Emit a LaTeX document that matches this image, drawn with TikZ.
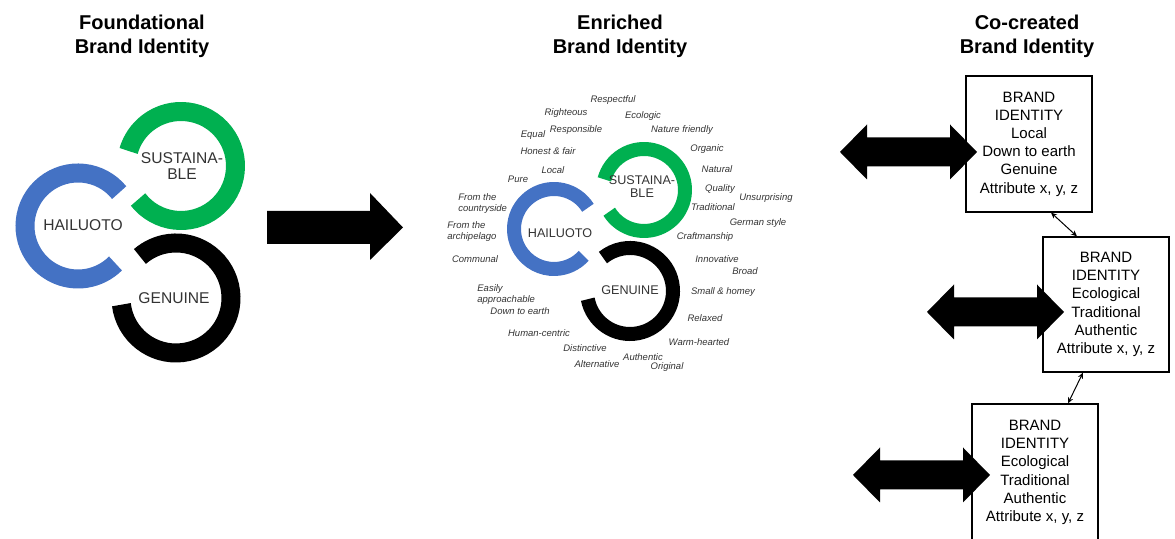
\documentclass[tikz,border=0pt]{standalone}
\usepackage{fontspec}
\setmainfont{Liberation Sans}
\usetikzlibrary{arrows.meta,calc}
\definecolor{ringblue}{HTML}{4472C4}
\definecolor{ringgreen}{HTML}{00B050}
\definecolor{labelgray}{HTML}{333333}
\tikzset{
  title/.style={font=\fontsize{10}{12}\selectfont\bfseries, align=center, inner sep=0pt},
  biglabel/.style={font=\fontsize{7.8}{7.6}\selectfont, text=labelgray, align=center, inner sep=0pt},
  smalllabel/.style={font=\fontsize{6.3}{6.6}\selectfont, text=labelgray, align=center, inner sep=0pt},
  word/.style={font=\fontsize{4.75}{5.5}\selectfont\itshape, text=labelgray, inner sep=0pt},
  wordl/.style={word, align=left, anchor=west},
  bibox/.style={draw, line width=0.6pt, minimum width=63pt, inner sep=0pt, align=center, font=\fontsize{7.5}{9.1}\selectfont},
  thinarrow/.style={line width=0.5pt, {Stealth[length=3pt,width=2.6pt]}-{Stealth[length=3pt,width=2.6pt]}},
  pics/dblarr/.style={code={\fill (0,0) -- (27,27.5) -- (27,14.5) -- (110,14.5) -- (110,27.5) -- (137,0) -- (110,-27.5) -- (110,-14.5) -- (27,-14.5) -- (27,-27.5) -- cycle;}}
}
\begin{document}
\begin{tikzpicture}[x=0.5pt, y=0.5pt]
\useasboundingbox (0,0) rectangle (1175,539);
% titles
\node[title] (t1) at (142,503) {Foundational\\Brand Identity};
\node[title] (t2) at (620,503) {Enriched\\Brand Identity};
\node[title] (t3) at (1027,503) {Co-created\\Brand Identity};
% left rings
\coordinate (lg) at (181,373);
\coordinate (lb) at (78,313);
\coordinate (lk) at (176,241);
\draw[ringgreen, line width=9.5pt] ($(lg)+(-142:54.5)$) arc[start angle=-142, end angle=164, radius=54.5];
\draw[ringblue, line width=9.5pt] ($(lb)+(39:53)$) arc[start angle=39, end angle=315, radius=53];
\draw[black, line width=9.5pt] ($(lk)+(-173:55)$) arc[start angle=-173, end angle=131, radius=55];
\node[biglabel] (ls) at (182,373) {SUSTAINA-\\BLE};
\node[biglabel] (lh) at (83,314) {HAILUOTO};
\node[biglabel] (lgn) at (174,241) {GENUINE};
% right arrow
\fill (267,295) -- (370,295) -- (370,279) -- (403,311.5) -- (370,346) -- (370,328) -- (267,328) -- cycle;
% middle rings
\coordinate (mg) at (644,349);
\coordinate (mb) at (554,310);
\coordinate (mk) at (630,248);
\draw[ringgreen, line width=7pt] ($(mg)+(-148:41)$) arc[start angle=-148, end angle=165, radius=41];
\draw[ringblue, line width=7pt] ($(mb)+(32:40)$) arc[start angle=32, end angle=318, radius=40];
\draw[black, line width=7pt] ($(mk)+(-169:43)$) arc[start angle=-169, end angle=129, radius=43];
\node[smalllabel] (ms) at (642,352) {SUSTAINA-\\BLE};
\node[smalllabel] (mh) at (560,306) {HAILUOTO};
\node[smalllabel] (mgn) at (630,249) {GENUINE};
% words
\node[word] (w1) at (613,439) {Respectful};
\node[word] (w2) at (566,426) {Righteous};
\node[word] (w3) at (533,404) {Equal};
\node[word] (w4) at (576,409) {Responsible};
\node[word] (w5) at (548,388) {Honest \& fair};
\node[word] (w6) at (553,369) {Local};
\node[word] (w7) at (518,360) {Pure};
\node[wordl] (w8) at (458,335.5) {From the\\countryside};
\node[wordl] (w9) at (447,307.5) {From the\\archipelago};
\node[word] (w10) at (475,280) {Communal};
\node[wordl] (w11) at (477,244.5) {Easily\\approachable};
\node[word] (w12) at (520,228) {Down to earth};
\node[word] (w13) at (539,206) {Human-centric};
\node[word] (w14) at (585,191) {Distinctive};
\node[word] (w15) at (597,175) {Alternative};
\node[word] (w16) at (643,423) {Ecologic};
\node[word] (w17) at (682,409) {Nature friendly};
\node[word] (w18) at (707,390) {Organic};
\node[word] (w19) at (717,370) {Natural};
\node[word] (w20) at (720,350) {Quality};
\node[word] (w21) at (766,341) {Unsurprising};
\node[word] (w22) at (713,332) {Traditional};
\node[word] (w23) at (758,316) {German style};
\node[word] (w24) at (705,302) {Craftmanship};
\node[word] (w25) at (717,280) {Innovative};
\node[word] (w26) at (745,268) {Broad};
\node[word] (w27) at (723,247) {Small \& homey};
\node[word] (w28) at (705,221) {Relaxed};
\node[word] (w29) at (699,197) {Warm-hearted};
\node[word] (w30) at (643,182) {Authentic};
\node[word] (w31) at (667,172) {Original};
% boxes
\node[bibox, minimum height=68pt] (b1) at (1029,395) {BRAND\\IDENTITY\\Local\\Down to earth\\Genuine\\Attribute x, y, z};
\node[bibox, minimum height=67.5pt] (b2) at (1106,234.5) {BRAND\\IDENTITY\\Ecological\\Traditional\\Authentic\\Attribute x, y, z};
\node[bibox, minimum height=68.5pt] (b3) at (1035,66.5) {BRAND\\IDENTITY\\Ecological\\Traditional\\Authentic\\Attribute x, y, z};
\draw[thinarrow] ([xshift=11pt]b1.south) -- ([xshift=-14.5pt]b2.north);
\draw[thinarrow] ([xshift=-11.5pt]b2.south) -- ([xshift=16.5pt]b3.north);
% big double arrows
\pic at (840,387) {dblarr};
\pic at (927,227) {dblarr};
\pic at (853,64) {dblarr};
\end{tikzpicture}
\end{document}
